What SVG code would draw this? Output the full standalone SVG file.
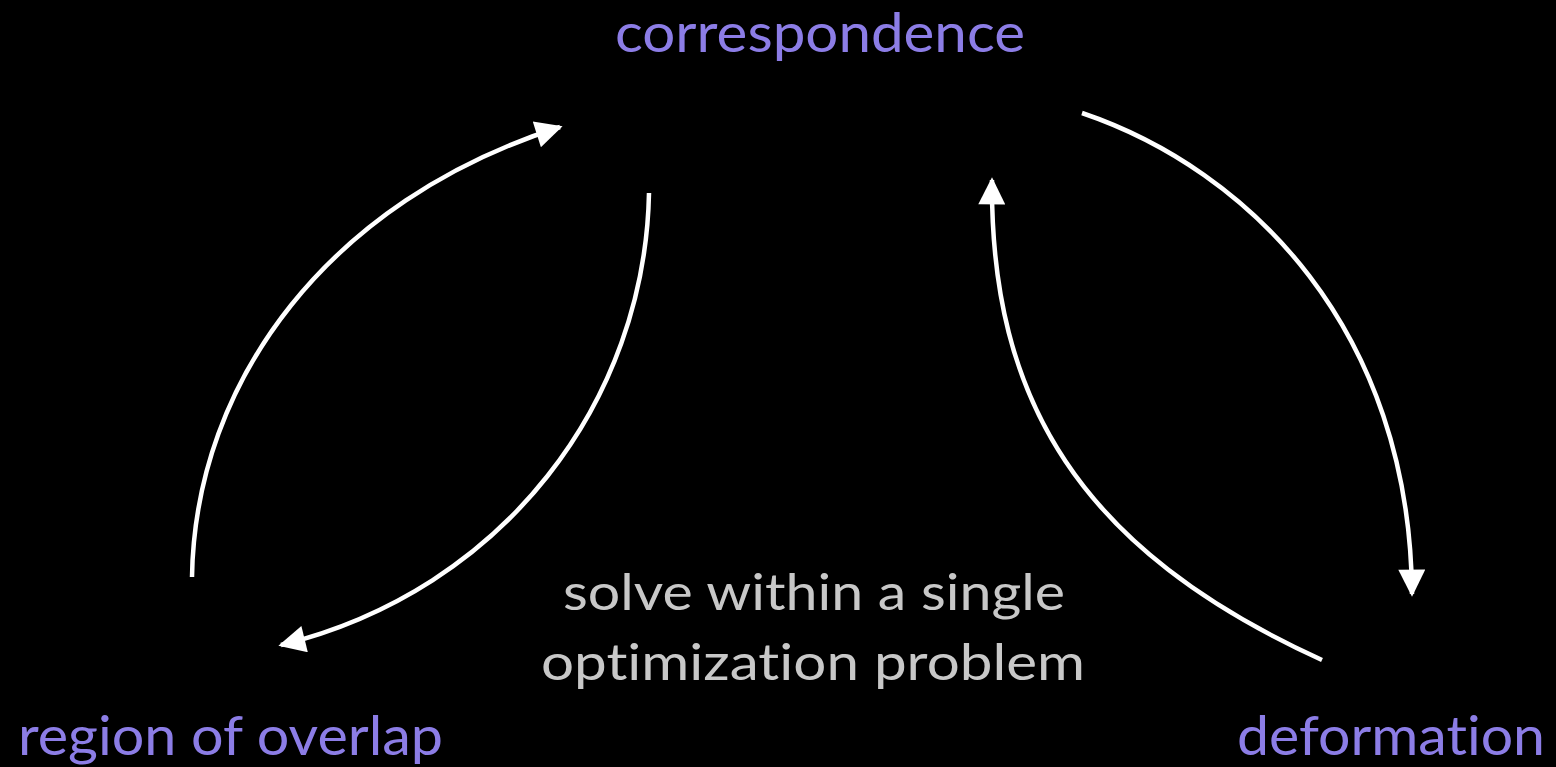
<svg xmlns="http://www.w3.org/2000/svg" width="1556" height="767" viewBox="0 0 1556 767">
<style>
.lbl{font-family:Lato,"Noto Sans","Liberation Sans",sans-serif;font-size:54px;fill:#8c7de6;font-variant-ligatures:none}
.note{font-family:Lato,"Noto Sans","Liberation Sans",sans-serif;font-size:50px;fill:#c8c8c8;text-anchor:middle;font-variant-ligatures:none}
.arc{fill:none;stroke:#ffffff;stroke-width:4.5;marker-end:url(#ah)}
</style>
<defs>
<marker id="ah" viewBox="0 0 10 10" refX="9" refY="5" markerWidth="6.5" markerHeight="6" markerUnits="strokeWidth" orient="auto">
<path d="M0,0 L10,5 L0,10 Z" fill="#ffffff"/>
</marker>
</defs>
<rect width="1556" height="767" fill="#000000"/>
<g id="connectors">
<path class="arc" d="M192,577 C195,380 330,200 560,127"/>
<path class="arc" d="M649,193 C645,400 505,590 281,645"/>
<path class="arc" d="M1082,113 C1250,170 1410,330 1412,594"/>
<path class="arc" d="M1322,660 C1080,550 990,400 992,180"/>
</g>
<g id="correspondence"><text class="lbl" x="615" y="52" textLength="410" lengthAdjust="spacingAndGlyphs">correspondence</text></g>
<g id="region-of-overlap"><text class="lbl" x="18" y="755" textLength="425" lengthAdjust="spacingAndGlyphs">region of overlap</text></g>
<g id="deformation"><text class="lbl" x="1237" y="755" textLength="308" lengthAdjust="spacingAndGlyphs">deformation</text></g>
<g id="note">
<text class="note" x="814" y="610" textLength="502" lengthAdjust="spacingAndGlyphs">solve within a single</text>
<text class="note" x="813" y="680" textLength="544" lengthAdjust="spacingAndGlyphs">optimization problem</text>
</g>
</svg>
